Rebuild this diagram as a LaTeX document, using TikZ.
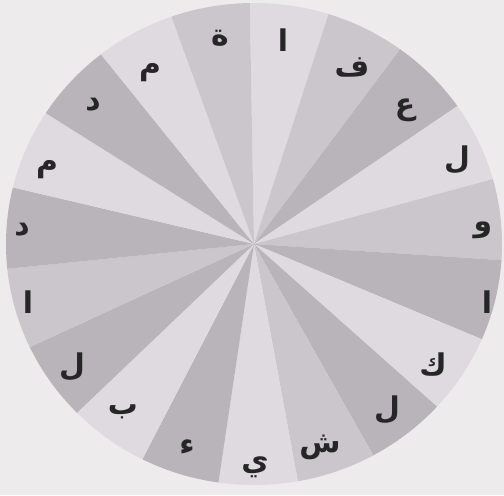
\documentclass[tikz,border=0pt]{standalone}
\usepackage{fontspec}
\usepackage{tikz}
\TeXXeTstate=1
\newfontfamily\arabicfont[Script=Arabic]{DejaVu Sans}
\definecolor{paper}{HTML}{EEEBEC}
\definecolor{sectorlight}{HTML}{DEDADF}
\definecolor{sectormid}{HTML}{CAC6CB}
\definecolor{sectordark}{HTML}{B8B4B9}
\tikzset{lightsector/.style = {fill = sectorlight}}
\tikzset{midsector/.style = {fill = sectormid}}
\tikzset{darksector/.style = {fill = sectordark}}
\tikzset{letter/.style = {inner sep = 0pt, text = black!85, font = \arabicfont\bfseries\fontsize{17}{19}\selectfont}}

\begin{document}
\begin{tikzpicture}[x = 0.02cm, y = 0.02cm]
				\fill[paper] (0, 0) rectangle (504, 495);
				\coordinate (c) at (254, 251);

				% one sector for each letter, 19 of them
				\begin{scope}
					\clip (c) ellipse [x radius = 248, y radius = 241];
					\foreach \i/\kind in {0/lightsector, 1/midsector, 2/darksector, 3/lightsector, 4/midsector, 5/darksector, 6/lightsector, 7/darksector, 8/midsector, 9/lightsector, 10/darksector, 11/lightsector, 12/darksector, 13/midsector, 14/darksector, 15/lightsector, 16/darksector, 17/lightsector, 18/midsector}
						\fill[\kind] (c) -- +({91 - 18.947*\i}:400) -- +({72.053 - 18.947*\i}:400) -- cycle;
				\end{scope}

				\node[letter] (a) at (283, 455) {\beginR ا\endR};
				\node[letter] (b) at (352, 428) {\beginR ف\endR};
				\node[letter] (d) at (405, 385) {\beginR ع\endR};
				\node[letter] (e) at (457, 335) {\beginR ل\endR};
				\node[letter] (f) at (483, 265) {\beginR و\endR};
				\node[letter] (g) at (487, 193) {\beginR ا\endR};
				\node[letter] (h) at (433, 130) {\beginR ك\endR};
				\node[letter] (i) at (387, 85) {\beginR ل\endR};
				\node[letter] (j) at (320, 48) {\beginR ش\endR};
				\node[letter] (k) at (255, 28) {\beginR ي\endR};
				\node[letter] (l) at (187, 48) {\beginR ء\endR};
				\node[letter] (m) at (123, 83) {\beginR ب\endR};
				\node[letter] (n) at (72, 128) {\beginR ل\endR};
				\node[letter] (o) at (28, 193) {\beginR ا\endR};
				\node[letter] (p) at (22, 265) {\beginR د\endR};
				\node[letter] (q) at (47, 325) {\beginR م\endR};
				\node[letter] (r) at (93, 390) {\beginR د\endR};
				\node[letter] (s) at (150, 422) {\beginR م\endR};
				\node[letter] (t) at (220, 457) {\beginR ة\endR};
			\end{tikzpicture}
\end{document}
